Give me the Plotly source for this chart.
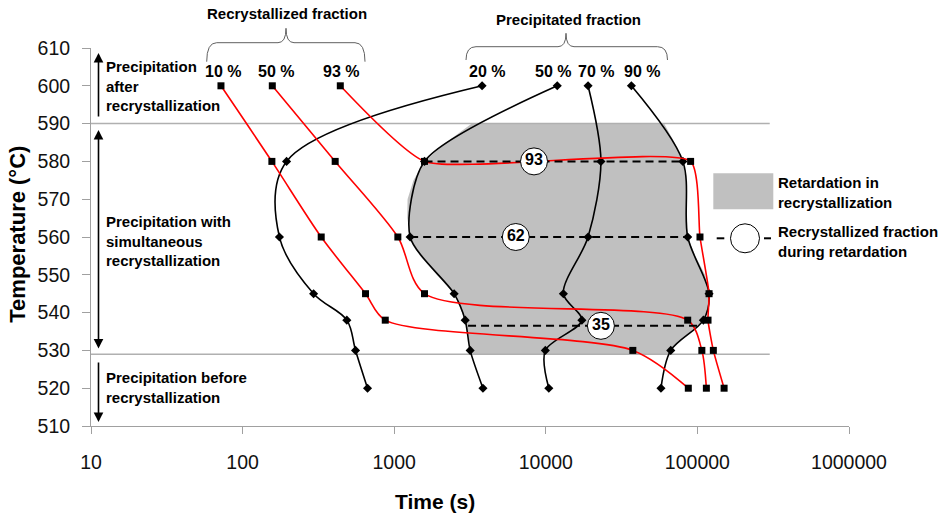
import numpy as np
import plotly.graph_objects as go

# ---------------- data ----------------
temps7 = [600, 580, 560, 545, 538, 530, 520]

# Recrystallized fraction curves (red, squares)
rec10_t = [72, 156, 330, 647, 873, 37500, 87100]
rec10_T = [600, 580, 560, 545, 538, 530, 520]
rec50_t = [157, 408, 1057, 1585, 86300, 107000, 114600]
rec50_T = [600, 580, 560, 545, 538, 530, 520]
rec93_t = [441, 1585, 90200, 104000, 119400, 117500, 127400, 150000]
rec93_T = [600, 580, 580, 560, 545, 538, 530, 520]

# Precipitated fraction curves (black, diamonds)
pre20_t = [3800, 195, 175, 294, 487, 556, 667]
pre50_t = [11900, 1585, 1274, 2485, 2940, 3170, 3850]
pre70_t = [19000, 23100, 19000, 13060, 17300, 9930, 10470]
pre90_t = [36700, 80200, 86300, 119400, 109500, 66700, 57500]
pre_T = temps7

# Retardation region (grey) boundary
gray_left_t = [3250, 2200, 1585, 1340, 1225, 1220, 1274, 1483, 1910, 2485, 2940, 3170, 3220]
gray_left_T = [590, 585, 580, 575, 570, 565, 560, 555, 550, 545, 538, 530, 529]
gray_right_t = [65000, 66700, 85100, 109500, 118000, 119400, 112200, 97000, 86300, 85800, 85100, 84000, 80200, 70600, 60300]
gray_right_T = [529, 530, 534, 538, 541, 545, 550, 555, 560, 565, 570, 575, 580, 585, 590]

# Regime boundaries
boundary_T = [590, 529]
boundary_t = [10, 300000]

# Dashed lines (recrystallized fraction during retardation)
dash_T = [580, 560, 536.5]
dash_t0 = [1585, 1274, 3070]
dash_t1 = [80200, 86300, 99600]
circ_t = [8360, 6340, 23100]
circ_T = [580, 560, 536.5]
circ_text = ["93", "62", "35"]

# Top curve labels
rec_labels = ["10 %", "50 %", "93 %"]
rec_label_t = [74.5, 167, 444]
pre_labels = ["20 %", "50 %", "70 %", "90 %"]
pre_label_t = [4090, 11170, 21570, 43400]
label_T = 603.9

x_tickvals = [10, 100, 1000, 10000, 100000, 1000000]
x_ticktext = ["10", "100", "1000", "10000", "100000", "1000000"]
y_tickvals = [510, 520, 530, 540, 550, 560, 570, 580, 590, 600, 610]

# ---------------- layout geometry ----------------
W, H = 942, 516
ML, MR, MT, MB = 91, 93, 48, 90
PL, PR, PT, PB = ML, W - MR, MT, H - MB


def X(p):
    return (p - PL) / (PR - PL)


def Y(p):
    return (PB - p) / (PB - PT)


FONT = "Arial, Liberation Sans, sans-serif"
RED = "#ff0000"
BLK = "#000000"
GRID = "#b0b0b0"

fig = go.Figure()

# grey retardation region
fig.add_trace(go.Scatter(
    x=gray_left_t + gray_right_t, y=gray_left_T + gray_right_T,
    mode="lines", fill="toself", fillcolor="#c0c0c0",
    line=dict(width=0), hoverinfo="skip", showlegend=False))

# regime boundaries
for T in boundary_T:
    fig.add_trace(go.Scatter(x=boundary_t, y=[T, T], mode="lines",
                             line=dict(color=GRID, width=1.5),
                             hoverinfo="skip", showlegend=False))

# precipitation curves
for t, sm in [(pre20_t, 1.0), (pre50_t, 0.75), (pre70_t, 0.9), (pre90_t, 0.9)]:
    fig.add_trace(go.Scatter(
        x=t, y=pre_T, mode="lines+markers",
        line=dict(color=BLK, width=1.6, shape="spline", smoothing=sm),
        marker=dict(symbol="diamond", size=7, color=BLK),
        showlegend=False))

# recrystallization curves
for t, T, sm in [(rec10_t, rec10_T, 0.8), (rec50_t, rec50_T, 0.8), (rec93_t, rec93_T, 0.5)]:
    fig.add_trace(go.Scatter(
        x=t, y=T, mode="lines+markers",
        line=dict(color=RED, width=1.6, shape="spline", smoothing=sm),
        marker=dict(symbol="square", size=7, color=BLK),
        showlegend=False))

# dashed lines
for T, a, b in zip(dash_T, dash_t0, dash_t1):
    fig.add_trace(go.Scatter(x=[a, b], y=[T, T], mode="lines",
                             line=dict(color=BLK, width=2, dash="8px,5px"),
                             hoverinfo="skip", showlegend=False))

# circles with recrystallized fraction
fig.add_trace(go.Scatter(
    x=circ_t, y=circ_T, mode="markers+text", text=["<b>%s</b>" % s for s in circ_text],
    textposition="middle center",
    textfont=dict(family=FONT, size=16, color=BLK),
    marker=dict(symbol="circle", size=27, color="white", line=dict(color=BLK, width=1)),
    showlegend=False))

annotations = []
# curve labels
for lab, t in zip(rec_labels + pre_labels, rec_label_t + pre_label_t):
    annotations.append(dict(x=np.log10(t), y=label_T, xref="x", yref="y",
                            xanchor="center", yanchor="middle",
                            text="<b>%s</b>" % lab, showarrow=False,
                            font=dict(family=FONT, size=16, color=BLK)))

# brace titles
annotations.append(dict(x=X(286.7), y=Y(14), xref="paper", yref="paper",
                        xanchor="center", yanchor="middle",
                        text="<b>Recrystallized fraction</b>", showarrow=False,
                        font=dict(family=FONT, size=15, color=BLK)))
annotations.append(dict(x=X(568), y=Y(20), xref="paper", yref="paper",
                        xanchor="center", yanchor="middle",
                        text="<b>Precipitated fraction</b>", showarrow=False,
                        font=dict(family=FONT, size=15, color=BLK)))

# left regime texts
for txt, yc in [("Precipitation<br>after<br>recrystallization", 85.5),
                ("Precipitation with<br>simultaneous<br>recrystallization", 240.5),
                ("Precipitation before<br>recrystallization", 387.2)]:
    annotations.append(dict(x=X(104), y=Y(yc), xref="paper", yref="paper",
                            xanchor="left", yanchor="middle", align="left",
                            text="<b>%s</b>" % txt, showarrow=False,
                            font=dict(family=FONT, size=15, color=BLK)))

# legend texts
for txt, yc in [("Retardation in<br>recrystallization", 192),
                ("Recrystallized fraction<br>during retardation", 241)]:
    annotations.append(dict(x=X(776), y=Y(yc), xref="paper", yref="paper",
                            xanchor="left", yanchor="middle", align="left",
                            text="<b>%s</b>" % txt, showarrow=False,
                            font=dict(family=FONT, size=15, color=BLK)))

# arrows
arrow_common = dict(xref="paper", yref="paper", axref="pixel", ayref="pixel",
                    text="", showarrow=True, arrowhead=2, arrowsize=1.2,
                    arrowwidth=1.6, arrowcolor=BLK, ax=0)
annotations.append(dict(x=X(98.5), y=Y(53), ay=65, **arrow_common))
annotations.append(dict(x=X(98.5), y=Y(130), ay=220, arrowside="end+start", **arrow_common))
annotations.append(dict(x=X(98.5), y=Y(422), ay=-61, **arrow_common))

# axis titles
annotations.append(dict(x=X(435), y=Y(501.7), xref="paper", yref="paper",
                        xanchor="center", yanchor="middle",
                        text="<b>Time (s)</b>", showarrow=False,
                        font=dict(family=FONT, size=21, color=BLK)))
annotations.append(dict(x=X(16.7), y=Y(234), xref="paper", yref="paper",
                        xanchor="center", yanchor="middle",
                        text="<b>Temperature (°C)</b>", showarrow=False, textangle=-90,
                        font=dict(family=FONT, size=22, color=BLK)))

shapes = []


def brace(x0, x1, xm, yend, yflat, ypeak, r=10, rm=8):
    p = (f"M {X(x0)},{Y(yend)} Q {X(x0)},{Y(yflat)} {X(x0 + r)},{Y(yflat)} "
         f"L {X(xm - rm)},{Y(yflat)} Q {X(xm)},{Y(yflat)} {X(xm)},{Y(ypeak)} "
         f"Q {X(xm)},{Y(yflat)} {X(xm + rm)},{Y(yflat)} "
         f"L {X(x1 - r)},{Y(yflat)} Q {X(x1)},{Y(yflat)} {X(x1)},{Y(yend)}")
    return dict(type="path", path=p, xref="paper", yref="paper",
                line=dict(color="#606060", width=1))


shapes.append(brace(206.7, 365, 286, 61.7, 42.7, 28.3))
shapes.append(brace(466, 667.5, 566, 60, 46.7, 33.3))

# legend symbols
shapes.append(dict(type="rect", xref="paper", yref="paper",
                   x0=X(713.3), x1=X(773.3), y0=Y(209.3), y1=Y(173.3),
                   fillcolor="#c0c0c0", line=dict(width=0)))
shapes.append(dict(type="circle", xref="paper", yref="paper",
                   x0=X(730.5), x1=X(759.5), y0=Y(252.8), y1=Y(223.8),
                   fillcolor="white", line=dict(color=BLK, width=1)))
for a, b in [(716.7, 724.3), (764, 771)]:
    shapes.append(dict(type="line", xref="paper", yref="paper",
                       x0=X(a), x1=X(b), y0=Y(238.3), y1=Y(238.3),
                       line=dict(color=BLK, width=2)))

fig.update_layout(
    width=W, height=H, margin=dict(l=ML, r=MR, t=MT, b=MB),
    paper_bgcolor="white", plot_bgcolor="white",
    font=dict(family=FONT, color=BLK),
    showlegend=False,
    annotations=annotations, shapes=shapes,
    xaxis=dict(type="log", range=[1, 6], tickvals=x_tickvals, ticktext=x_ticktext,
               ticks="outside", ticklen=7, tickcolor="#a0a0a0", tickwidth=1,
               showline=True, linecolor="#a0a0a0", linewidth=1,
               showgrid=False, zeroline=False, ticklabelstandoff=12,
               tickfont=dict(family=FONT, size=19.5, color="#111111")),
    yaxis=dict(range=[510, 610], tickvals=y_tickvals,
               ticks="outside", ticklen=8, tickcolor="#a0a0a0", tickwidth=1,
               showline=True, linecolor="#a0a0a0", linewidth=1,
               showgrid=False, zeroline=False, ticklabelstandoff=8,
               tickfont=dict(family=FONT, size=19.5, color="#111111")),
)

fig.write_html("out.html")
